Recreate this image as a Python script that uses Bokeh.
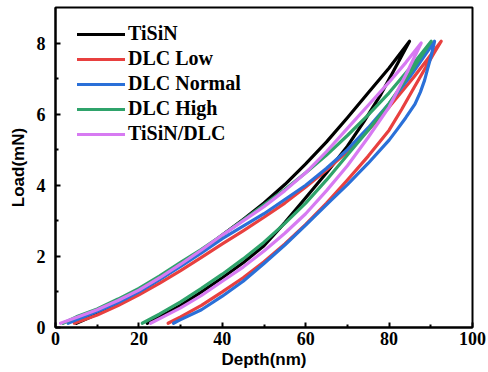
from bokeh.plotting import figure
from bokeh.models import Range1d, Legend, LegendItem, FixedTicker
from bokeh.embed import file_html
from bokeh.resources import INLINE

# ---- data ----
series_names = ["TiSiN", "DLC Low", "DLC Normal", "DLC High", "TiSiN/DLC"]
series_colors = ["#000000", "#e8403f", "#2a70d8", "#2fa36b", "#d77af2"]

x_ticks = [0, 20, 40, 60, 80, 100]
x_minor = [10, 30, 50, 70, 90]
y_ticks = [0, 2, 4, 6, 8]
y_minor = [1, 3, 5, 7]

tisin_load_depth = [5, 10, 15, 20, 25, 30, 35, 40, 45, 50, 55, 60, 65, 70, 75, 80, 84.9]
tisin_load_force = [0.12, 0.38, 0.68, 1.0, 1.36, 1.75, 2.16, 2.6, 3.04, 3.5, 4.02, 4.6, 5.22, 5.9, 6.6, 7.3, 8.05]
tisin_unload_depth = [84.9, 81, 78, 74, 70, 65, 60, 55, 50, 45, 40, 35, 30, 25, 22]
tisin_unload_force = [8.05, 7.2, 6.55, 5.8, 5.1, 4.35, 3.65, 2.95, 2.3, 1.82, 1.4, 1.0, 0.62, 0.3, 0.12]

dlclow_load_depth = [4.5, 10, 15, 20, 25, 30, 35, 40, 45, 50, 55, 60, 65, 70, 75, 80, 86, 92.5]
dlclow_load_force = [0.12, 0.35, 0.62, 0.92, 1.25, 1.6, 1.97, 2.35, 2.72, 3.1, 3.5, 3.95, 4.43, 4.95, 5.55, 6.2, 7.05, 8.05]
dlclow_unload_depth = [92.5, 90.8, 89.3, 86, 83, 80, 75, 70, 65, 60, 55, 50, 45, 40, 35, 30, 27]
dlclow_unload_force = [8.05, 7.72, 7.42, 6.75, 6.13, 5.55, 4.82, 4.15, 3.5, 2.9, 2.35, 1.85, 1.4, 1.0, 0.62, 0.3, 0.12]

dlcnormal_load_depth = [3, 5, 10, 15, 20, 25, 30, 35, 40, 45, 50, 55, 60, 65, 70, 75, 80, 85, 90.9]
dlcnormal_load_force = [0.12, 0.22, 0.45, 0.7, 1.0, 1.35, 1.72, 2.1, 2.5, 2.85, 3.2, 3.6, 4.0, 4.48, 5.0, 5.62, 6.3, 7.05, 8.05]
dlcnormal_unload_depth = [90.9, 90.0, 89.3, 88.5, 87.5, 86.2, 84, 82, 80, 75, 70, 66, 60, 55, 50, 45, 40, 35, 30, 28.3]
dlcnormal_unload_force = [8.05, 7.6, 7.3, 6.95, 6.62, 6.28, 5.9, 5.58, 5.27, 4.62, 4.02, 3.57, 2.88, 2.32, 1.8, 1.3, 0.88, 0.5, 0.22, 0.12]

dlchigh_load_depth = [1.8, 5, 10, 15, 20, 25, 30, 35, 40, 45, 50, 55, 60, 65, 70, 75, 80, 85, 90.1]
dlchigh_load_force = [0.12, 0.3, 0.52, 0.8, 1.1, 1.45, 1.83, 2.2, 2.6, 3.02, 3.45, 3.88, 4.35, 4.85, 5.4, 5.98, 6.6, 7.3, 8.05]
dlchigh_unload_depth = [90.1, 85, 80, 75, 70, 65, 60, 55, 50, 45, 40, 35, 30, 25, 20.8]
dlchigh_unload_force = [8.05, 7.15, 6.3, 5.55, 4.85, 4.15, 3.5, 2.93, 2.4, 1.93, 1.5, 1.1, 0.72, 0.38, 0.12]

tisindlc_load_depth = [1.2, 5, 10, 15, 20, 25, 30, 35, 40, 45, 50, 55, 60, 65, 70, 75, 80, 84, 87.7]
tisindlc_load_force = [0.12, 0.28, 0.5, 0.76, 1.05, 1.4, 1.78, 2.18, 2.6, 3.0, 3.4, 3.85, 4.35, 4.95, 5.6, 6.25, 6.9, 7.45, 8.0]
tisindlc_unload_depth = [87.7, 84, 80, 75, 70, 65, 60, 55, 50, 45, 40, 35, 30, 25, 22.8]
tisindlc_unload_force = [8.0, 7.1, 6.2, 5.35, 4.55, 3.85, 3.2, 2.65, 2.15, 1.7, 1.3, 0.9, 0.55, 0.25, 0.12]

curves = [
    (tisin_load_depth, tisin_load_force, tisin_unload_depth, tisin_unload_force),
    (dlclow_load_depth, dlclow_load_force, dlclow_unload_depth, dlclow_unload_force),
    (dlcnormal_load_depth, dlcnormal_load_force, dlcnormal_unload_depth, dlcnormal_unload_force),
    (dlchigh_load_depth, dlchigh_load_force, dlchigh_unload_depth, dlchigh_unload_force),
    (tisindlc_load_depth, tisindlc_load_force, tisindlc_unload_depth, tisindlc_unload_force),
]

# ---- figure ----
p = figure(width=488, height=372, output_backend="svg", toolbar_location=None,
           x_range=Range1d(0, 100), y_range=Range1d(0, 9.0),
           min_border_left=55, min_border_right=16, min_border_top=7, min_border_bottom=45)
p.xgrid.visible = False
p.ygrid.visible = False
p.outline_line_color = "black"
p.outline_line_width = 2
p.background_fill_color = "white"
p.border_fill_color = "white"

tick_font = "Liberation Serif"
for ax in (p.xaxis[0], p.yaxis[0]):
    ax.axis_line_width = 2
    ax.major_tick_in = 5
    ax.major_tick_out = 0
    ax.minor_tick_in = 3
    ax.minor_tick_out = 0
    ax.major_tick_line_width = 2
    ax.minor_tick_line_width = 2
    ax.major_label_text_font = tick_font
    ax.major_label_text_font_style = "bold"
    ax.major_label_text_font_size = "18px"
    ax.major_label_text_color = "black"
    ax.axis_label_text_font = "Liberation Sans"
    ax.axis_label_text_font_style = "bold"
    ax.axis_label_text_font_size = "17px"
    ax.axis_label_text_color = "black"

p.xaxis[0].ticker = FixedTicker(ticks=x_ticks, minor_ticks=x_minor)
p.yaxis[0].ticker = FixedTicker(ticks=y_ticks, minor_ticks=y_minor)
p.xaxis[0].axis_label = "Depth(nm)"
p.yaxis[0].axis_label = "Load(mN)"
p.xaxis[0].major_label_standoff = 4
p.xaxis[0].axis_label_standoff = 2
p.yaxis[0].major_label_standoff = 10
p.yaxis[0].axis_label_standoff = 6

items = []
for name, color, (ld, lf, ud, uf) in zip(series_names, series_colors, curves):
    xs = list(ld) + list(ud)
    ys = list(lf) + list(uf)
    r = p.line(xs, ys, line_color=color, line_width=3.2, line_join="round", line_cap="round")
    items.append(LegendItem(label=name, renderers=[r]))

legend = Legend(items=items, location=(22, 182), orientation="vertical")
legend.label_text_font = tick_font
legend.label_text_font_style = "bold"
legend.label_text_font_size = "20px"
legend.label_text_color = "black"
legend.glyph_width = 48
legend.glyph_height = 20
legend.label_height = 20
legend.label_standoff = 3
legend.spacing = 2
legend.padding = 0
legend.margin = 0
legend.border_line_color = None
legend.background_fill_alpha = 0
p.add_layout(legend)

open("out.html", "w").write(file_html(p, INLINE))
